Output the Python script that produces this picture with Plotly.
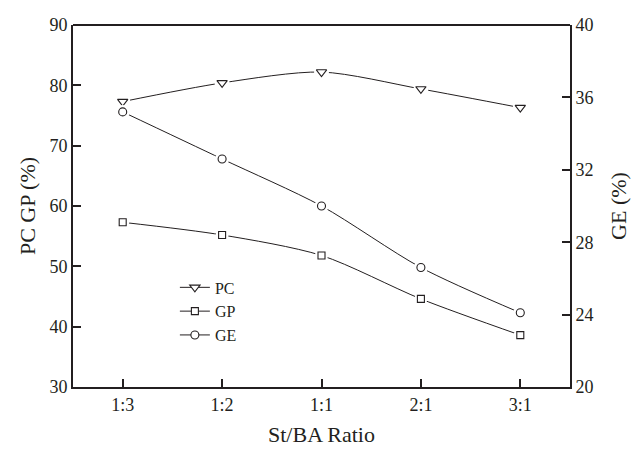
import plotly.graph_objects as go

ratios = ["1:3", "1:2", "1:1", "2:1", "3:1"]
pc = [77.3, 80.4, 82.2, 79.4, 76.3]
gp = [57.3, 55.2, 51.8, 44.6, 38.6]
ge = [35.2, 32.6, 30.0, 26.6, 24.1]

FONT = "Liberation Serif"
INK = "#231f20"

fig = go.Figure()

def add_series(name, y, symbol, size, yaxis):
    fig.add_trace(go.Scatter(
        x=ratios, y=y, name=name, mode="lines+markers", yaxis=yaxis,
        line=dict(color=INK, width=1, shape="spline", smoothing=0.8),
        marker=dict(symbol=symbol, size=size, color="white", line=dict(color=INK, width=1.1)),
    ))
    fig.add_trace(go.Scatter(
        x=ratios, y=y, mode="markers", yaxis=yaxis, showlegend=False, hoverinfo="skip",
        marker=dict(symbol="circle", size=size + 6, color="white", line=dict(width=0)),
    ))
    fig.add_trace(go.Scatter(
        x=ratios, y=y, mode="markers", yaxis=yaxis, showlegend=False,
        marker=dict(symbol=symbol, size=size, color="white", line=dict(color=INK, width=1.1)),
    ))

add_series("PC", pc, "triangle-down", 9, "y")
add_series("GP", gp, "square", 7, "y")
add_series("GE", ge, "circle", 8, "y2")

axis_common = dict(
    showline=True, linecolor=INK, linewidth=2, mirror=False,
    ticks="inside", ticklen=8, tickwidth=1.5, tickcolor=INK,
    showgrid=False, zeroline=False,
    tickfont=dict(family=FONT, size=18, color=INK),
)

fig.update_layout(
    width=639, height=455,
    margin=dict(l=73, r=66, t=25, b=61),
    paper_bgcolor="white", plot_bgcolor="white",
    font=dict(family=FONT, color=INK),
    xaxis=dict(**axis_common, type="category", range=[-0.5, 4.5],
               title=dict(text="St/BA Ratio", font=dict(family=FONT, size=22, color=INK), standoff=13)),
    yaxis=dict(**axis_common, range=[30, 90], dtick=10,
               title=dict(text="PC GP (%)", font=dict(family=FONT, size=22, color=INK), standoff=8)),
    yaxis2=dict(**axis_common, range=[20, 40], dtick=4, overlaying="y", side="right",
                title=dict(text="GE (%)", font=dict(family=FONT, size=22, color=INK), standoff=18)),
    legend=dict(x=0.205, y=0.322, xanchor="left", yanchor="top",
                bgcolor="rgba(0,0,0,0)", font=dict(family=FONT, size=16, color=INK),
                tracegroupgap=0, itemwidth=30),
    showlegend=True,
)

# top border line
fig.add_shape(type="line", xref="paper", yref="paper", x0=0, x1=1, y0=1, y1=1,
              line=dict(color=INK, width=2))

fig.write_html("out.html")
